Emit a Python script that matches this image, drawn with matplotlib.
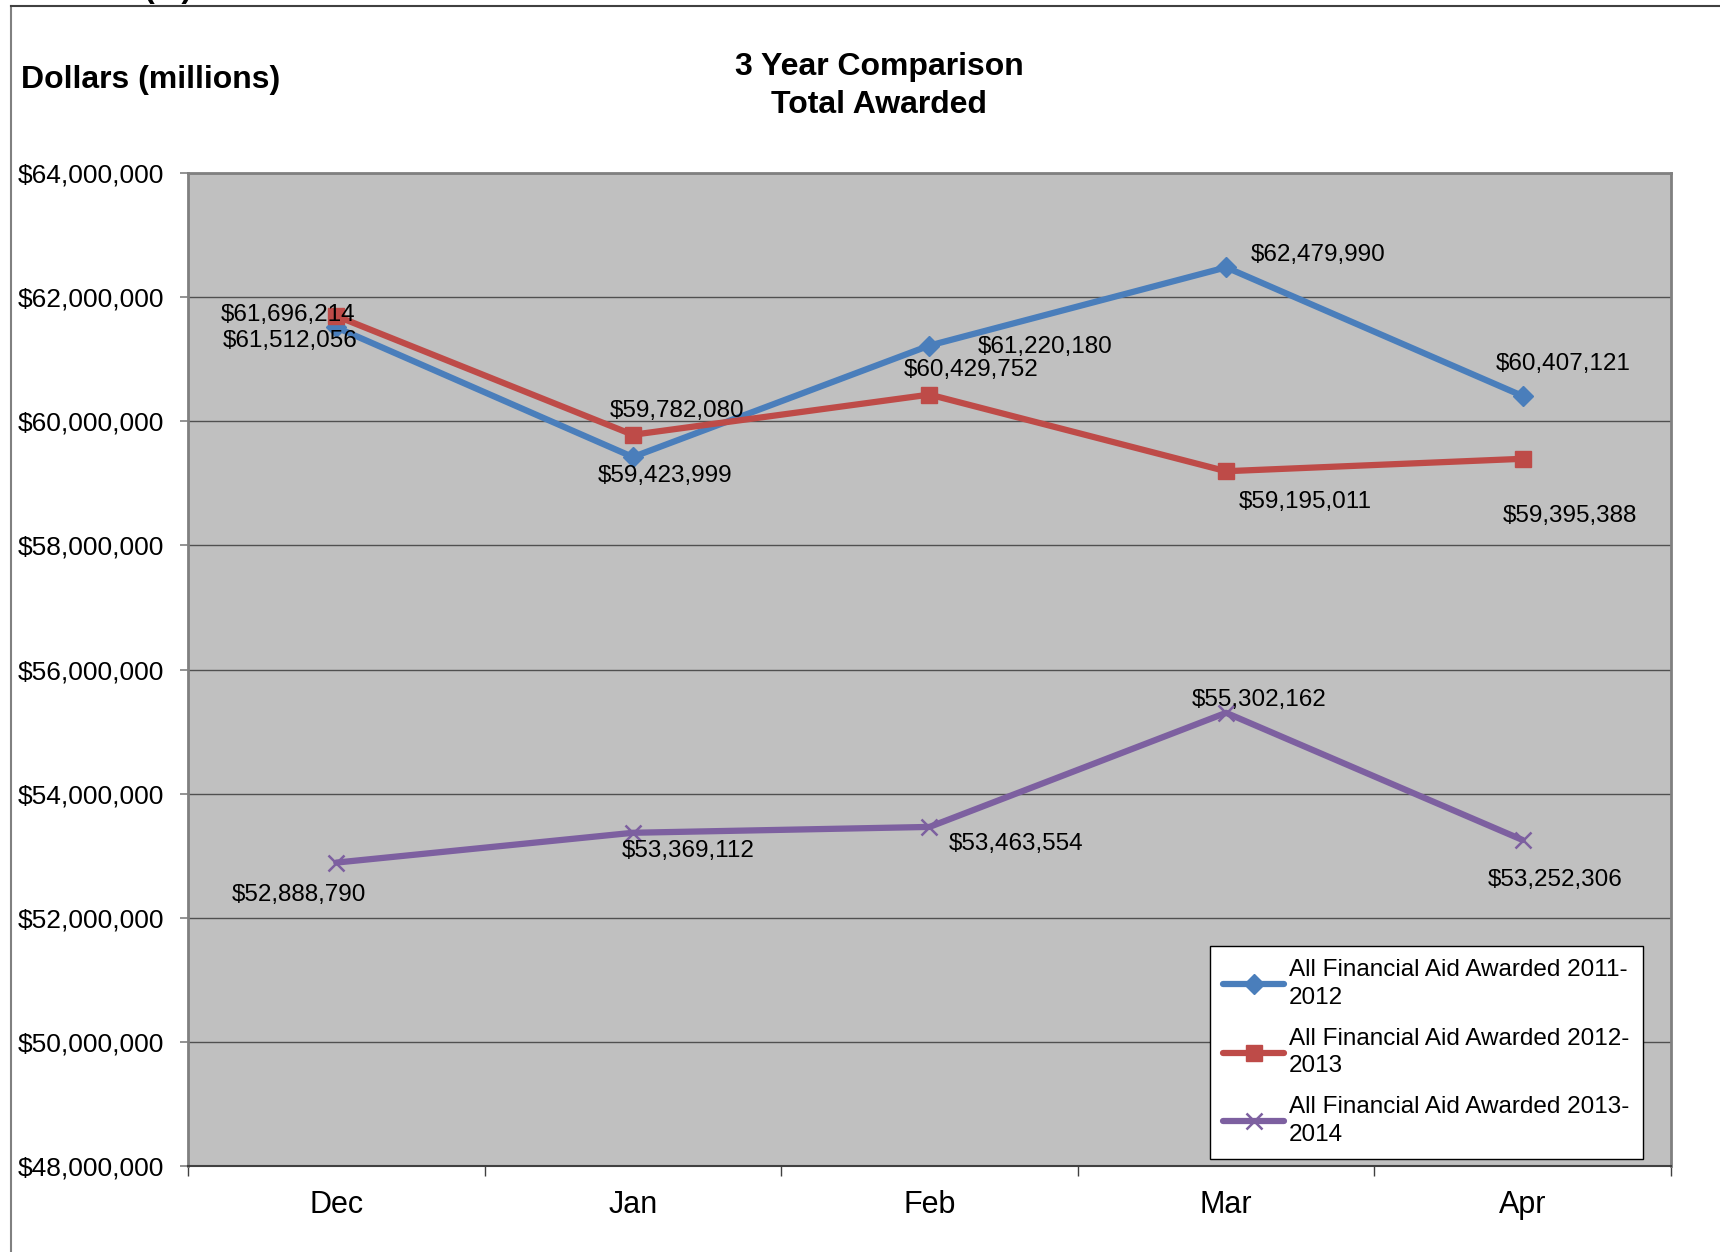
import matplotlib.pyplot as plt
from matplotlib.lines import Line2D

plt.rcParams['font.family'] = ['Liberation Sans', 'DejaVu Sans']

# Data
months = ["Dec", "Jan", "Feb", "Mar", "Apr"]
aid_2011_12 = [61512056, 59423999, 61220180, 62479990, 60407121]
aid_2012_13 = [61696214, 59782080, 60429752, 59195011, 59395388]
aid_2013_14 = [52888790, 53369112, 53463554, 55302162, 53252306]
series_labels = [
    "All Financial Aid Awarded 2011-\n2012",
    "All Financial Aid Awarded 2012-\n2013",
    "All Financial Aid Awarded 2013-\n2014",
]

# Label offsets (points) for data labels, per series
offsets_2011_12 = [(-33, -10), (23, -14), (83, -1), (66, 9), (29, 23)]
offsets_2012_13 = [(-35, 1), (32, 17), (30, 18), (57, -22), (34, -41)]
offsets_2013_14 = [(-27, -23), (40, -13), (62, -12), (24, 9), (23, -29)]

fig = plt.figure(figsize=(17.2, 12.52), dpi=100)
ax = fig.add_axes([0.1093, 0.0687, 0.8622, 0.7931])
ax.set_facecolor("#C0C0C0")

x = list(range(len(months)))
styles = [
    dict(color="#4A7EBB", marker="D", ms=10),
    dict(color="#BE4B48", marker="s", ms=12),
    dict(color="#7D60A0", marker="x", ms=11, mew=1.8),
]
all_series = [aid_2011_12, aid_2012_13, aid_2013_14]
all_offsets = [offsets_2011_12, offsets_2012_13, offsets_2013_14]

for vals, lab, st, offs in zip(all_series, series_labels, styles, all_offsets):
    ax.plot(x, vals, lw=4.5, label=lab, solid_joinstyle="round",
            solid_capstyle="round", zorder=3, **st)
    for xi, v, off in zip(x, vals, offs):
        ax.annotate(f"${v:,.0f}", (xi, v), xytext=off, textcoords="offset points",
                    ha="center", va="center", fontsize=17.5, zorder=5)

ax.set_xlim(-0.5, len(months) - 0.5)
ax.set_ylim(48000000, 64000000)
ax.set_yticks(range(48000000, 64000001, 2000000))
ax.yaxis.set_major_formatter(plt.FuncFormatter(lambda v, p: f"${v:,.0f}"))
ax.grid(axis="y", color="#505050", lw=1)
ax.set_axisbelow(True)

ax.set_xticks(x)
ax.set_xticklabels(months)
ax.set_xticks([i - 0.5 for i in range(len(months) + 1)], minor=True)
ax.tick_params(axis="x", which="major", length=0, pad=17, labelsize=22)
ax.tick_params(axis="x", which="minor", length=7, width=1, color="#404040")
ax.tick_params(axis="y", length=6, width=1.2, color="#808080", pad=11, labelsize=19)

for side in ["top", "right", "left"]:
    ax.spines[side].set_color("#808080")
    ax.spines[side].set_linewidth(2)
ax.spines["bottom"].set_color("#404040")
ax.spines["bottom"].set_linewidth(1.5)

leg = ax.legend(loc="lower right", bbox_to_anchor=(0.981, 0.007), fontsize=17.5,
                frameon=True, fancybox=False, edgecolor="black", framealpha=1,
                borderaxespad=0, borderpad=0.55, handlelength=2.5,
                handletextpad=0.2, labelspacing=0.75)
leg.get_frame().set_linewidth(1)
for t in leg.get_texts():
    t.set_linespacing(1.35)

fig.text(0.012, 0.936, "Dollars (millions)", fontsize=23, fontweight="bold",
         ha="left", va="center")
fig.text(0.511, 0.9315, "3 Year Comparison\nTotal Awarded", fontsize=23,
         fontweight="bold", ha="center", va="center", linespacing=1.35)
# clipped heading fragment at the very top
fig.text(0.0977, 1 + 3 / 1252, "(   )", fontsize=23, fontweight="bold",
         ha="center", va="baseline")

# outer frame of the chart object
fig.add_artist(Line2D([11 / 1720, 11 / 1720], [0, 1 - 6 / 1252],
                      transform=fig.transFigure, color="#808080", lw=1.5))
fig.add_artist(Line2D([11 / 1720, 1], [1 - 6 / 1252, 1 - 6 / 1252],
                      transform=fig.transFigure, color="#404040", lw=1.5))

fig.savefig("out.png", dpi=100)
